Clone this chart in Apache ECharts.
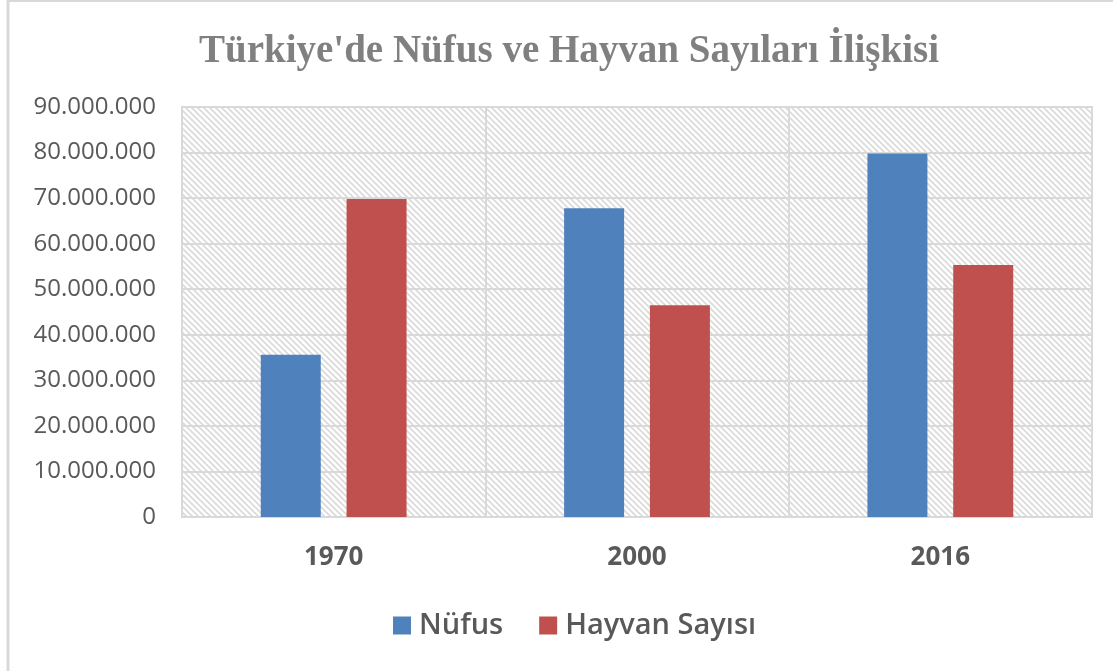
<!DOCTYPE html>
<html>
<head>
<meta charset="utf-8">
<script src="https://cdn.jsdelivr.net/npm/echarts@6/dist/echarts.min.js"></script>
<style>
html,body{margin:0;padding:0;background:#fff;}
#chart{width:1113px;height:671px;}
</style>
</head>
<body>
<div id="chart"></div>
<script>
const titleText = "Türkiye'de Nüfus ve Hayvan Sayıları İlişkisi";
const categories = ['1970', '2000', '2016'];
const seriesNames = ['Nüfus', 'Hayvan Sayısı'];
const nufus = [35600000, 67800000, 79800000];
const hayvan = [69800000, 46500000, 55300000];

function makePattern() {
  const c = document.createElement('canvas');
  c.width = 6; c.height = 6;
  const ctx = c.getContext('2d');
  ctx.fillStyle = '#ffffff';
  ctx.fillRect(0, 0, 6, 6);
  ctx.strokeStyle = '#dadada';
  ctx.lineWidth = 1.7;
  for (let k = -6; k <= 6; k += 6) {
    ctx.beginPath();
    ctx.moveTo(k - 1, -1);
    ctx.lineTo(k + 7, 7);
    ctx.stroke();
  }
  return c;
}

function fmt(v) {
  return String(v).replace(/\B(?=(\d{3})+(?!\d))/g, '.');
}

const chart = echarts.init(document.getElementById('chart'));
chart.setOption({
  animation: false,
  backgroundColor: '#ffffff',
  title: {
    text: titleText,
    left: 194,
    top: 27,
    textStyle: {fontFamily: 'Liberation Serif', fontWeight: 'bold', fontSize: 39, color: '#808080'}
  },
  legend: {
    data: seriesNames,
    bottom: 26,
    left: 388,
    itemWidth: 18,
    itemHeight: 18,
    itemGap: 36,
    icon: 'rect',
    textStyle: {fontFamily: 'Open Sans', fontWeight: 600, fontSize: 29, color: '#595959', padding: [0, 0, 0, 3]}
  },
  grid: {
    left: 182, right: 21, top: 107, bottom: 154,
    show: true,
    backgroundColor: {image: makePattern(), repeat: 'repeat'},
    borderColor: '#d9d9d9',
    borderWidth: 2
  },
  xAxis: {
    type: 'category',
    data: categories,
    axisTick: {show: false},
    axisLine: {lineStyle: {color: '#d9d9d9', width: 2}},
    splitLine: {show: true, lineStyle: {color: '#d9d9d9', width: 2}},
    axisLabel: {fontFamily: 'Open Sans', fontWeight: 'bold', fontSize: 26, color: '#595959', margin: 28}
  },
  yAxis: {
    type: 'value',
    min: 0, max: 90000000, interval: 10000000,
    axisLine: {show: false},
    axisTick: {show: false},
    splitLine: {lineStyle: {color: '#d9d9d9', width: 2}},
    axisLabel: {fontFamily: 'Open Sans', fontSize: 24, color: '#595959', margin: 26, formatter: fmt}
  },
  series: [
    {name: seriesNames[0], type: 'bar', data: nufus, barWidth: 60, barGap: '43%',
     itemStyle: {color: '#4f81bd'}},
    {name: seriesNames[1], type: 'bar', data: hayvan, barWidth: 60, barGap: '43%',
     itemStyle: {color: '#c0504d'}}
  ],
  graphic: [
    {type: 'line', shape: {x1: 8, y1: 0, x2: 8, y2: 671}, style: {stroke: '#d9d9d9', lineWidth: 3}},
    {type: 'line', shape: {x1: 8, y1: 1, x2: 1113, y2: 1}, style: {stroke: '#d9d9d9', lineWidth: 2}}
  ]
});
</script>
</body>
</html>
